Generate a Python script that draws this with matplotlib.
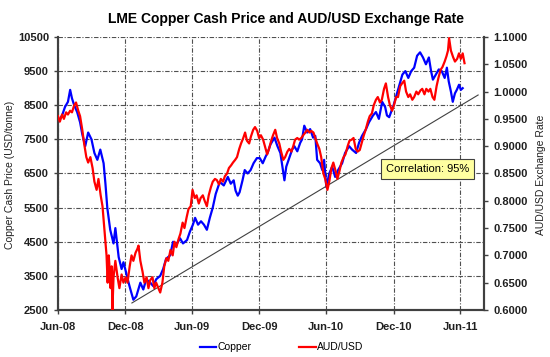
import matplotlib
matplotlib.use("Agg")
import matplotlib.pyplot as plt
import matplotlib.dates as mdates
import pandas as pd

plt.rcParams['font.family'] = ['Liberation Sans', 'DejaVu Sans']

# - - - Data - - - #
cu_dates = ["2008-06-01", "2008-06-12", "2008-06-20", "2008-06-28", "2008-07-04", "2008-07-09",
            "2008-07-15", "2008-07-23", "2008-07-31", "2008-08-06", "2008-08-14", "2008-08-22",
            "2008-08-31", "2008-09-08", "2008-09-16", "2008-09-24", "2008-10-03", "2008-10-08",
            "2008-10-13", "2008-10-21", "2008-10-30", "2008-11-04", "2008-11-13", "2008-11-21",
            "2008-11-26", "2008-12-02", "2008-12-10", "2008-12-15", "2008-12-23", "2008-12-31",
            "2009-01-11", "2009-01-19", "2009-01-27", "2009-02-07", "2009-02-15", "2009-02-23",
            "2009-03-06", "2009-03-14", "2009-03-22", "2009-04-02", "2009-04-10", "2009-04-18",
            "2009-04-29", "2009-05-07", "2009-05-18", "2009-05-26", "2009-06-03", "2009-06-09",
            "2009-06-17", "2009-06-25", "2009-07-03", "2009-07-11", "2009-07-19", "2009-07-27",
            "2009-08-04", "2009-08-15", "2009-08-26", "2009-09-06", "2009-09-14", "2009-09-22",
            "2009-09-27", "2009-10-03", "2009-10-08", "2009-10-16", "2009-10-22", "2009-10-30",
            "2009-11-07", "2009-11-15", "2009-11-24", "2009-12-02", "2009-12-10", "2009-12-18",
            "2009-12-23", "2009-12-31", "2010-01-11", "2010-01-19", "2010-01-27", "2010-02-07",
            "2010-02-12", "2010-02-20", "2010-02-28", "2010-03-06", "2010-03-14", "2010-03-22",
            "2010-03-27", "2010-04-02", "2010-04-10", "2010-04-18", "2010-04-26", "2010-05-02",
            "2010-05-07", "2010-05-15", "2010-05-21", "2010-05-26", "2010-06-01", "2010-06-09",
            "2010-06-17", "2010-06-25", "2010-07-03", "2010-07-14", "2010-07-22", "2010-08-02",
            "2010-08-10", "2010-08-21", "2010-08-29", "2010-09-06", "2010-09-17", "2010-09-25",
            "2010-10-06", "2010-10-14", "2010-10-22", "2010-10-31", "2010-11-08", "2010-11-13",
            "2010-11-19", "2010-12-01", "2010-12-09", "2010-12-17", "2010-12-25", "2011-01-02",
            "2011-01-10", "2011-01-18", "2011-01-26", "2011-02-03", "2011-02-11", "2011-02-19",
            "2011-02-27", "2011-03-07", "2011-03-13", "2011-03-18", "2011-03-26", "2011-04-03",
            "2011-04-11", "2011-04-19", "2011-04-25", "2011-04-30", "2011-05-06", "2011-05-11",
            "2011-05-17", "2011-05-22", "2011-05-28", "2011-06-02", "2011-06-07"]
cu_vals = [8000, 8200, 8450, 8600, 8950, 8700,
           8500, 8300, 8000, 7650, 7300, 7700,
           7500, 7100, 6900, 7200, 6800, 6200,
           5500, 4850, 4450, 4900, 4050, 3700,
           3900, 3650, 3300, 3100, 2800, 2900,
           3300, 3100, 3400, 3300, 3200, 3400,
           3500, 3700, 4000, 4100, 4500, 4400,
           4600, 4450, 4550, 4800, 5000, 5200,
           5000, 5100, 5000, 4850, 5200, 5500,
           5900, 6250, 6150, 6400, 6200, 6300,
           6000, 5850, 5950, 6300, 6600, 6500,
           6600, 6800, 6950, 6950, 6800, 7000,
           7100, 7350, 7550, 7300, 7100, 6300,
           6700, 6950, 7200, 7300, 7150, 7400,
           7500, 7900, 7700, 7800, 7550, 7600,
           6900, 6800, 6600, 6900, 6100, 6500,
           6700, 6400, 6600, 6800, 7100, 7300,
           7200, 7100, 7400, 7600, 7800, 8000,
           8200, 8300, 8100, 8600, 8450, 8200,
           8150, 8500, 8800, 9100, 9400, 9500,
           9300, 9500, 9600, 9950, 10050, 9900,
           9700, 9900, 9500, 9250, 9400, 9550,
           9500, 9300, 9600, 9200, 8900, 8600,
           8850, 8950, 9100, 8950, 9000]

aud_dates = ["2008-06-01", "2008-06-06", "2008-06-12", "2008-06-17", "2008-06-23", "2008-06-28",
             "2008-07-04", "2008-07-09", "2008-07-15", "2008-07-20", "2008-07-26", "2008-07-31",
             "2008-08-06", "2008-08-11", "2008-08-17", "2008-08-22", "2008-08-28", "2008-09-03",
             "2008-09-08", "2008-09-14", "2008-09-19", "2008-09-25", "2008-09-30", "2008-10-06",
             "2008-10-11", "2008-10-14", "2008-10-17", "2008-10-20", "2008-10-22", "2008-10-25",
             "2008-10-27", "2008-10-30", "2008-11-04", "2008-11-10", "2008-11-15", "2008-11-21",
             "2008-11-26", "2008-12-02", "2008-12-07", "2008-12-13", "2008-12-18", "2008-12-23",
             "2008-12-29", "2009-01-03", "2009-01-06", "2009-01-11", "2009-01-17", "2009-01-22",
             "2009-01-28", "2009-02-02", "2009-02-07", "2009-02-13", "2009-02-18", "2009-02-23",
             "2009-03-01", "2009-03-06", "2009-03-12", "2009-03-17", "2009-03-23", "2009-03-28",
             "2009-04-03", "2009-04-09", "2009-04-14", "2009-04-19", "2009-04-25", "2009-04-30",
             "2009-05-06", "2009-05-11", "2009-05-17", "2009-05-22", "2009-05-28", "2009-06-02",
             "2009-06-08", "2009-06-13", "2009-06-19", "2009-06-24", "2009-06-30", "2009-07-05",
             "2009-07-11", "2009-07-16", "2009-07-22", "2009-07-27", "2009-08-02", "2009-08-07",
             "2009-08-13", "2009-08-18", "2009-08-24", "2009-08-29", "2009-09-04", "2009-09-09",
             "2009-09-15", "2009-09-20", "2009-09-26", "2009-10-01", "2009-10-07", "2009-10-12",
             "2009-10-18", "2009-10-23", "2009-10-28", "2009-11-03", "2009-11-08", "2009-11-14",
             "2009-11-19", "2009-11-25", "2009-11-30", "2009-12-05", "2009-12-11", "2009-12-16",
             "2009-12-22", "2009-12-27", "2010-01-02", "2010-01-07", "2010-01-13", "2010-01-18",
             "2010-01-24", "2010-01-29", "2010-02-04", "2010-02-09", "2010-02-15", "2010-02-20",
             "2010-02-26", "2010-03-03", "2010-03-08", "2010-03-14", "2010-03-19", "2010-03-25",
             "2010-03-30", "2010-04-05", "2010-04-10", "2010-04-16", "2010-04-21", "2010-04-27",
             "2010-05-02", "2010-05-07", "2010-05-13", "2010-05-18", "2010-05-24", "2010-05-29",
             "2010-06-04", "2010-06-09", "2010-06-15", "2010-06-20", "2010-06-26", "2010-07-01",
             "2010-07-07", "2010-07-12", "2010-07-18", "2010-07-23", "2010-07-29", "2010-08-03",
             "2010-08-09", "2010-08-14", "2010-08-20", "2010-08-25", "2010-08-31", "2010-09-05",
             "2010-09-11", "2010-09-16", "2010-09-22", "2010-09-27", "2010-10-03", "2010-10-08",
             "2010-10-14", "2010-10-19", "2010-10-25", "2010-10-30", "2010-11-05", "2010-11-10",
             "2010-11-16", "2010-11-21", "2010-11-27", "2010-12-02", "2010-12-08", "2010-12-13",
             "2010-12-19", "2010-12-24", "2010-12-30", "2011-01-04", "2011-01-10", "2011-01-15",
             "2011-01-21", "2011-01-26", "2011-02-01", "2011-02-06", "2011-02-12", "2011-02-17",
             "2011-02-23", "2011-02-28", "2011-03-06", "2011-03-11", "2011-03-17", "2011-03-22",
             "2011-03-28", "2011-04-02", "2011-04-08", "2011-04-13", "2011-04-19", "2011-04-24",
             "2011-04-28", "2011-05-01", "2011-05-06", "2011-05-12", "2011-05-17", "2011-05-23",
             "2011-05-28", "2011-06-02", "2011-06-07", "2011-06-12"]
aud_vals = [0.955, 0.945, 0.958, 0.950, 0.962, 0.958,
            0.965, 0.962, 0.975, 0.980, 0.965, 0.955,
            0.930, 0.905, 0.880, 0.870, 0.880, 0.860,
            0.835, 0.820, 0.840, 0.810, 0.790, 0.740,
            0.700, 0.650, 0.700, 0.670, 0.640, 0.680,
            0.600, 0.660, 0.690, 0.660, 0.640, 0.665,
            0.650, 0.660, 0.650, 0.680, 0.700, 0.690,
            0.705, 0.712, 0.718, 0.690, 0.670, 0.650,
            0.660, 0.640, 0.655, 0.660, 0.640, 0.650,
            0.640, 0.632, 0.650, 0.680, 0.695, 0.690,
            0.710, 0.700, 0.725, 0.715, 0.730, 0.740,
            0.760, 0.750, 0.770, 0.785, 0.790, 0.820,
            0.805, 0.810, 0.795, 0.805, 0.810, 0.800,
            0.790, 0.810, 0.825, 0.835, 0.840, 0.838,
            0.830, 0.840, 0.835, 0.845, 0.850, 0.860,
            0.865, 0.870, 0.875, 0.880, 0.895, 0.905,
            0.915, 0.925, 0.910, 0.905, 0.918, 0.930,
            0.935, 0.928, 0.915, 0.920, 0.912, 0.900,
            0.885, 0.895, 0.910, 0.920, 0.930, 0.915,
            0.905, 0.890, 0.875, 0.880, 0.890, 0.895,
            0.890, 0.900, 0.912, 0.915, 0.912, 0.915,
            0.920, 0.925, 0.930, 0.925, 0.928, 0.925,
            0.915, 0.905, 0.895, 0.880, 0.850, 0.840,
            0.820, 0.835, 0.860, 0.870, 0.855, 0.840,
            0.855, 0.870, 0.880, 0.885, 0.900, 0.910,
            0.912, 0.915, 0.895, 0.890, 0.893, 0.905,
            0.920, 0.930, 0.945, 0.955, 0.960, 0.975,
            0.985, 0.990, 0.980, 0.985, 1.005, 1.015,
            0.990, 0.975, 0.965, 0.975, 0.990, 0.990,
            1.010, 1.015, 1.020, 1.000, 0.990, 0.995,
            0.985, 0.990, 1.000, 0.995, 1.002, 1.005,
            0.995, 1.005, 1.000, 1.005, 0.990, 0.985,
            1.010, 1.025, 1.040, 1.045, 1.055, 1.065,
            1.075, 1.098, 1.075, 1.063, 1.055, 1.060,
            1.070, 1.060, 1.070, 1.052]

trend_dates = ["2008-12-19", "2011-07-19"]
trend_vals = [2705, 8800]

x_ticks = ["2008-06-01", "2008-12-01", "2009-06-01", "2009-12-01",
           "2010-06-01", "2010-12-01", "2011-06-01"]
cu_ticks = [2500, 3500, 4500, 5500, 6500, 7500, 8500, 9500, 10500]
aud_ticks = [0.60, 0.65, 0.70, 0.75, 0.80, 0.85, 0.90, 0.95, 1.00, 1.05, 1.10]

cu_x = pd.to_datetime(cu_dates)
aud_x = pd.to_datetime(aud_dates)

fig = plt.figure(figsize=(5.5, 3.57), dpi=100)
ax = fig.add_axes([0.1055, 0.1317, 0.7745, 0.7647])
ax2 = ax.twinx()

# - - - - Lines - - - - #
ln1, = ax.plot(cu_x, cu_vals, color='#0000FF', lw=1.6, label='Copper', zorder=3)
ln2, = ax2.plot(aud_x, aud_vals, color='#FF0000', lw=1.6, label='AUD/USD', zorder=3)
ax.plot(pd.to_datetime(trend_dates), trend_vals, color='#404040', lw=0.8, zorder=4)

ax.set_xlim(pd.Timestamp("2008-06-01"), pd.Timestamp("2011-08-04"))
ax.set_ylim(2500, 10500)
ax2.set_ylim(0.6, 1.1)

ax.set_xticks(pd.to_datetime(x_ticks))
ax.xaxis.set_major_formatter(mdates.DateFormatter('%b-%y'))
ax.set_yticks(cu_ticks)
ax2.set_yticks(aud_ticks)
ax2.set_yticklabels(['%.4f' % v for v in aud_ticks])

ax.grid(True, color='#505050', ls=(0, (4, 1.5, 1, 1.5)), lw=0.8)
ax.set_axisbelow(True)
ax2.set_zorder(ax.get_zorder() + 1)
ax2.patch.set_visible(False)

for a in (ax, ax2):
    a.spines['top'].set_visible(False)
    for s in ('left', 'right', 'bottom'):
        a.spines[s].set_color('#404040')
        a.spines[s].set_linewidth(1.5)
    a.tick_params(direction='out', length=3, width=1, color='#404040', labelsize=8)
    for lab in a.get_xticklabels() + a.get_yticklabels():
        lab.set_fontweight('bold')
        lab.set_color('#202020')

ax.tick_params(axis='x', pad=6)

fig.text(0.52, 0.948, 'LME Copper Cash Price and AUD/USD Exchange Rate',
         ha='center', va='center', fontsize=10, fontweight='bold')
fig.text(0.018, 0.51, 'Copper Cash Price (USD/tonne)', rotation=90,
         ha='center', va='center', fontsize=7.5, color='#202020')
fig.text(0.984, 0.51, 'AUD/USD Exchange Rate', rotation=90,
         ha='center', va='center', fontsize=7.5, color='#202020')

ax.text(0.868, 0.516, 'Correlation: 95%', transform=ax.transAxes, ha='center', va='center',
        fontsize=8, zorder=6,
        bbox=dict(boxstyle='square,pad=0.45', facecolor='#FFFFA0', edgecolor='#404040', lw=0.8))

fig.legend([ln1, ln2], ['Copper', 'AUD/USD'], loc='center', bbox_to_anchor=(0.512, 0.027),
           ncol=2, frameon=False, fontsize=7.5, handlelength=1.6, handletextpad=0.1,
           columnspacing=4.6)

fig.savefig('out.png', dpi=100)
